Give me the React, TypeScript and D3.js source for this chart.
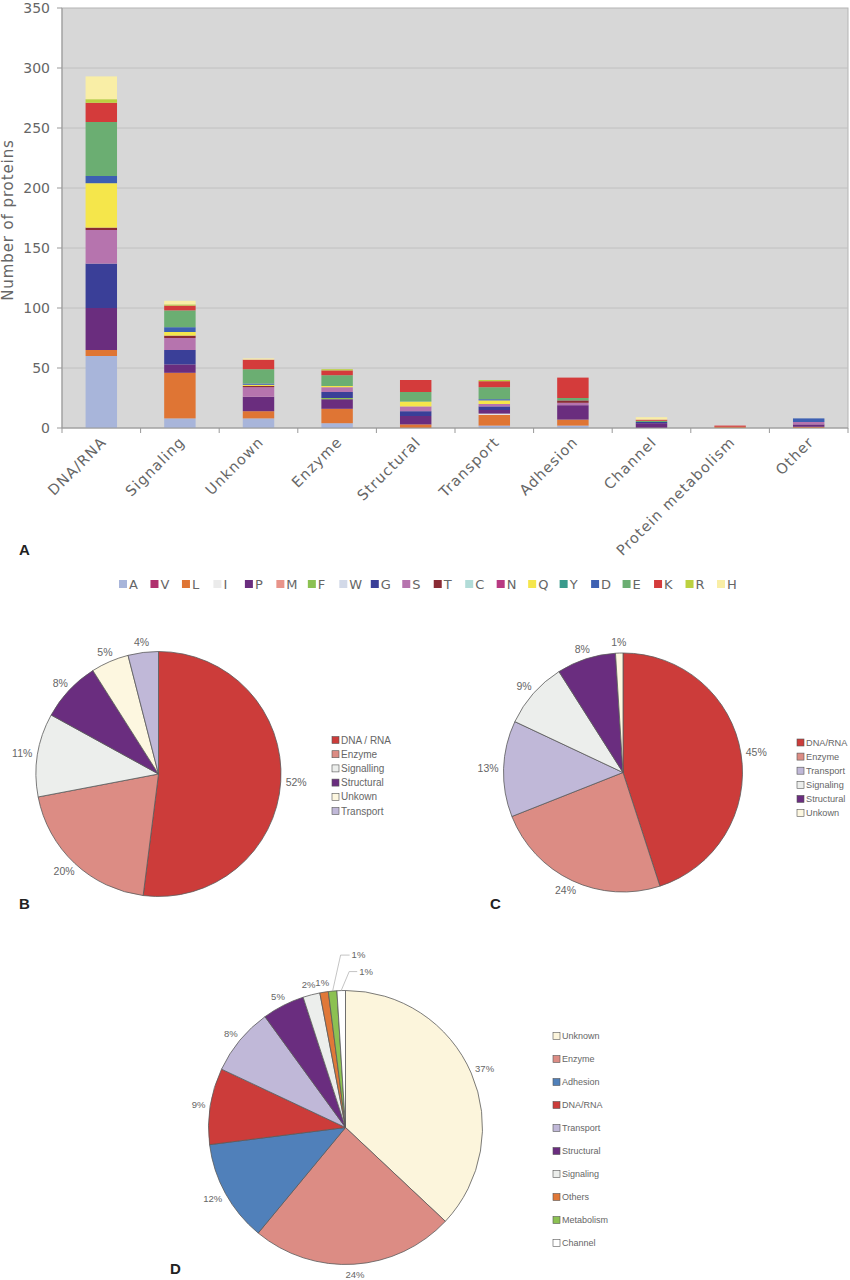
import * as d3 from 'd3';

// ---- Panel A: residue composition per functional class ----
const categories = ['DNA/RNA', 'Signaling', 'Unknown', 'Enzyme', 'Structural', 'Transport', 'Adhesion', 'Channel', 'Protein metabolism', 'Other'];

const residues = ['A', 'V', 'L', 'I', 'P', 'M', 'F', 'W', 'G', 'S', 'T', 'C', 'N', 'Q', 'Y', 'D', 'E', 'K', 'R', 'H'];
const residueColors = ['#a8b5da', '#b0306e', '#df7534', '#ebebeb', '#6a2d7e', '#e8948a', '#8cc152', '#d2d9e8', '#3a3f98', '#b674ae', '#8a2b35', '#b2dcd8', '#b83a82', '#f5e64b', '#3a9a8c', '#3d60b2', '#6bae72', '#d43b3b', '#bcd140', '#f9eea6'];

// counts per residue, in category order
const countsA = [60, 8, 8, 4, 0, 2, 2, 0, 0, 0];
const countsV = [0, 0, 0, 0, 0, 0, 0, 0, 0, 0];
const countsL = [5, 38, 6, 12, 3, 9, 5, 0, 1, 1];
const countsI = [0, 0, 0, 0, 0, 1, 0, 0, 0, 0];
const countsP = [35, 7, 12, 8, 7, 3, 12, 4, 0, 2];
const countsM = [0, 0, 0, 0, 0, 0, 0, 0, 0, 0];
const countsF = [0, 0, 0, 1, 0, 0, 0, 0, 0, 0];
const countsW = [0, 0, 0, 0, 0, 0, 0, 0, 0, 0];
const countsG = [37, 12, 0, 5, 4, 3, 0, 1, 0, 0];
const countsS = [28, 10, 8, 4, 4, 2, 2, 0, 0, 2];
const countsT = [2, 2, 1, 0, 0, 0, 2, 0, 0, 0];
const countsC = [0, 0, 0, 0, 0, 0, 0, 0, 0, 0];
const countsN = [0, 0, 0, 0, 0, 0, 0, 0, 0, 0];
const countsQ = [37, 3, 1, 1, 4, 3, 0, 0, 0, 0];
const countsY = [0, 0, 0, 0, 0, 0, 0, 0, 0, 0];
const countsD = [6, 4, 1, 0, 0, 1, 0, 0, 0, 3];
const countsE = [45, 14, 12, 9, 8, 10, 2, 1, 0, 0];
const countsK = [16, 4, 8, 4, 10, 5, 17, 1, 1, 0];
const countsR = [3, 1, 0, 1, 0, 1, 0, 0, 0, 0];
const countsH = [19, 3, 1, 0, 0, 0, 0, 2, 0, 0];

const residueCounts = [countsA, countsV, countsL, countsI, countsP, countsM, countsF, countsW, countsG, countsS,
  countsT, countsC, countsN, countsQ, countsY, countsD, countsE, countsK, countsR, countsH];

const yTicks = [0, 50, 100, 150, 200, 250, 300, 350];

// ---- Panels B, C, D: class distribution ----
const pieBLabels = ['DNA / RNA', 'Enzyme', 'Signalling', 'Structural', 'Unkown', 'Transport'];
const pieBValues = [52, 20, 11, 8, 5, 4];
const pieBColors = ['#cc3c3a', '#dc8c84', '#eceeec', '#6a2d7f', '#fdf7e0', '#c0b8d8'];

const pieCLabels = ['DNA/RNA', 'Enzyme', 'Transport', 'Signaling', 'Structural', 'Unkown'];
const pieCValues = [45, 24, 13, 9, 8, 1];
const pieCColors = ['#cc3c3a', '#dc8c84', '#c0b8d8', '#eceeec', '#6a2d7f', '#fdf7e0'];

const pieDLabels = ['Unknown', 'Enzyme', 'Adhesion', 'DNA/RNA', 'Transport', 'Structural', 'Signaling', 'Others', 'Metabolism', 'Channel'];
const pieDValues = [37, 24, 12, 9, 8, 5, 2, 1, 1, 1];
const pieDColors = ['#fcf5dc', '#dc8c84', '#5080ba', '#cc3c3a', '#c0b8d8', '#6a2d7f', '#eceeec', '#e07838', '#8cc152', '#ffffff'];

const AXIS_FONT = '"DejaVu Sans", sans-serif';
const SMALL_FONT = '"Liberation Sans", Arial, sans-serif';
const TEXT_GRAY = '#666';

function BarPanel() {
  const x = d3.scaleBand<string>().domain(categories).range([62, 848]).paddingInner(0.6).paddingOuter(0.3);
  const y = d3.scaleLinear().domain([0, 350]).range([428, 8]);

  const rows = categories.map((category, i) => {
    const row: Record<string, any> = { category };
    residues.forEach((r, k) => { row[r] = residueCounts[k][i]; });
    return row;
  });
  const series = d3.stack<any>().keys(residues)(rows);
  const step = x.step();

  // legend row
  const legendX = d3.scalePoint<string>().domain(residues).range([119, 717]);

  return (
    <g>
      <rect x={62} y={8} width={786} height={420} fill="#d7d7d7" stroke="#b4b4b4" strokeWidth={1} />
      {yTicks.slice(1, -1).map(t => (
        <line key={t} x1={62} x2={848} y1={y(t)} y2={y(t)} stroke="#c0c0c0" strokeWidth={1} />
      ))}
      {series.map((s, k) => (
        <g key={s.key} fill={residueColors[k]}>
          {s.map((d, i) => d[1] > d[0] ? (
            <rect key={i} x={x(categories[i])} y={y(d[1])} width={x.bandwidth()} height={y(d[0]) - y(d[1])} />
          ) : null)}
        </g>
      ))}
      <line x1={62} x2={62} y1={8} y2={428} stroke="#999" />
      <line x1={62} x2={848} y1={428} y2={428} stroke="#999" />
      {yTicks.map(t => (
        <g key={t}>
          <line x1={57} x2={62} y1={y(t)} y2={y(t)} stroke="#999" />
          <text x={50} y={y(t)} dy="0.36em" textAnchor="end" fontSize={14} fill={TEXT_GRAY} fontFamily={AXIS_FONT}>{t}</text>
        </g>
      ))}
      {d3.range(categories.length + 1).map(i => (
        <line key={i} x1={62 + i * step} x2={62 + i * step} y1={428} y2={433} stroke="#999" />
      ))}
      {categories.map(c => (
        <text key={c} transform={`translate(${x(c)! + x.bandwidth() / 2 + 6},${443}) rotate(-45)`}
          textAnchor="end" fontSize={14.5} letterSpacing={1.1} fill={TEXT_GRAY} fontFamily={AXIS_FONT}>{c}</text>
      ))}
      <text transform="translate(13,220) rotate(-90)" textAnchor="middle" fontSize={15} letterSpacing={0.9}
        fill={TEXT_GRAY} fontFamily={AXIS_FONT}>Number of proteins</text>

      <text x={19} y={555} fontSize={15} fontWeight="bold" fill="#222" fontFamily={SMALL_FONT}>A</text>
      {residues.map((r, k) => (
        <g key={r} transform={`translate(${legendX(r)},0)`}>
          <rect x={0} y={580} width={8} height={8} fill={residueColors[k]} />
          <text x={10} y={589} fontSize={13} fill={TEXT_GRAY} fontFamily={AXIS_FONT}>{r}</text>
        </g>
      ))}
    </g>
  );
}

interface Leader { run: number; rise: number; }

interface PieProps {
  cx: number; cy: number; r: number;
  labels: string[]; values: number[]; colors: string[];
  fontSize: number;
  legendX: number; legendY: number; legendStep: number; legendFont: number;
  leaders?: (Leader | null)[];
}

function PiePanel({ cx, cy, r, labels, values, colors, fontSize, legendX, legendY, legendStep, legendFont, leaders }: PieProps) {
  const arcs = d3.pie<number>().sort(null)(values);
  const arc = d3.arc<d3.PieArcDatum<number>>().innerRadius(0).outerRadius(r);

  return (
    <g>
      <g transform={`translate(${cx},${cy})`}>
        {arcs.map((a, i) => (
          <path key={i} d={arc(a)!} fill={colors[i]} stroke="#5a5a5a" strokeWidth={0.8} />
        ))}
      </g>
      {arcs.map((a, i) => {
        const mid = (a.startAngle + a.endAngle) / 2;
        const s = Math.sin(mid), c = Math.cos(mid);
        const txt = `${values[i]}%`;
        const leader = leaders ? leaders[i] : null;
        if (leader) {
          const x0 = cx + r * s, y0 = cy - r * c;
          const x1 = x0 + 8, y1 = y0 - leader.rise;
          const x2 = x1 + leader.run;
          return (
            <g key={i}>
              <polyline points={`${x0},${y0} ${x1},${y1} ${x2},${y1}`} fill="none" stroke="#aaa" strokeWidth={0.7} />
              <text x={x2 + 2} y={y1} dy="0.35em" fontSize={fontSize} fill={TEXT_GRAY} fontFamily={SMALL_FONT}>{txt}</text>
            </g>
          );
        }
        const halfW = txt.length * fontSize * 0.3;
        const halfH = fontSize * 0.42;
        const lx = cx + (r + 6) * s + s * halfW;
        const ly = cy - (r + 6) * c - c * halfH;
        return (
          <text key={i} x={lx} y={ly} dy="0.35em" textAnchor="middle" fontSize={fontSize} fill={TEXT_GRAY} fontFamily={SMALL_FONT}>{txt}</text>
        );
      })}
      {labels.map((l, i) => (
        <g key={l} transform={`translate(${legendX},${legendY + i * legendStep})`}>
          <rect x={0} y={-3.5} width={7} height={7} fill={colors[i]} stroke="#555" strokeWidth={0.6} />
          <text x={9} y={0} dy="0.35em" fontSize={legendFont} fill={TEXT_GRAY} fontFamily={SMALL_FONT}>{l}</text>
        </g>
      ))}
    </g>
  );
}

export default function App() {
  const pieDLeaders: (Leader | null)[] = pieDValues.map(() => null);
  pieDLeaders[8] = { rise: 36, run: 9 };
  pieDLeaders[9] = { rise: 19, run: 8 };

  return (
    <svg width={850} height={1280} viewBox="0 0 850 1280" style={{ position: 'absolute', left: 0, top: 0, background: '#fff' }}>
      <BarPanel />

      <PiePanel cx={158.5} cy={774} r={122.5} labels={pieBLabels} values={pieBValues} colors={pieBColors}
        fontSize={10.5} legendX={332} legendY={740} legendStep={14.2} legendFont={10} />
      <text x={19} y={909} fontSize={15} fontWeight="bold" fill="#222" fontFamily={SMALL_FONT}>B</text>

      <PiePanel cx={623} cy={772.5} r={119.5} labels={pieCLabels} values={pieCValues} colors={pieCColors}
        fontSize={10.5} legendX={797} legendY={742.5} legendStep={14.1} legendFont={9.2} />
      <text x={490} y={909} fontSize={15} fontWeight="bold" fill="#222" fontFamily={SMALL_FONT}>C</text>

      <PiePanel cx={345.5} cy={1127.5} r={137} labels={pieDLabels} values={pieDValues} colors={pieDColors}
        fontSize={9.5} legendX={553} legendY={1036} legendStep={23} legendFont={9} leaders={pieDLeaders} />
      <text x={170} y={1274} fontSize={15} fontWeight="bold" fill="#222" fontFamily={SMALL_FONT}>D</text>
    </svg>
  );
}
